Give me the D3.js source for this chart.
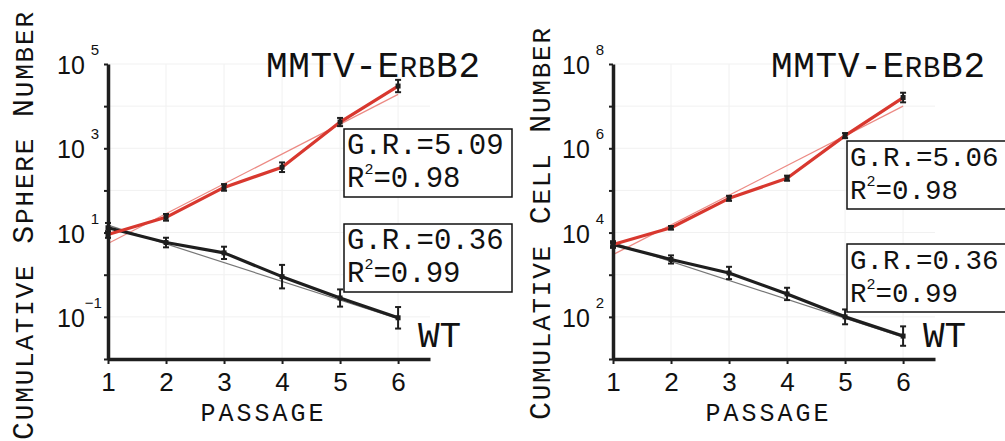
<!DOCTYPE html>
<html>
<head>
<meta charset="utf-8">
<script src="https://cdn.jsdelivr.net/npm/d3@7"></script>
<style>
  body { margin: 0; background: #fff; }
  svg { display: block; }
</style>
</head>
<body>
<div id="chart"></div>
<script>
// passage numbers on the x axis
var passages = [1, 2, 3, 4, 5, 6];

// cumulative sphere number (left panel)
var sphereErbb2 = [9, 23, 118, 355, 4200, 30000];
var sphereWT = [13, 5.8, 3.3, 0.9, 0.28, 0.095];
var sphereErbb2Err = [1.2, 1.2, 1.2, 1.3, 1.25, 1.4];
var sphereWTErr = [1.3, 1.3, 1.4, 1.9, 1.6, 1.8];
var sphereErbb2Fit = [5.5, 19000];
var sphereWTFit = [15, 0.09];

// cumulative cell number (right panel)
var cellErbb2 = [5200, 13000, 65000, 195000, 2000000, 16000000];
var cellWT = [5200, 2300, 1100, 350, 100, 35];
var cellErbb2Err = [1.1, 1.1, 1.15, 1.15, 1.15, 1.3];
var cellWTErr = [1.2, 1.25, 1.4, 1.4, 1.5, 1.7];
var cellErbb2Fit = [3000, 1e7];
var cellWTFit = [5800, 33];

var sphereTickExp = [5, 3, 1, -1];
var cellTickExp = [8, 6, 4, 2];
var sphereStats = [["G.R.=5.09", "0.98"], ["G.R.=0.36", "0.99"]];
var cellStats = [["G.R.=5.06", "0.98"], ["G.R.=0.36", "0.99"]];

var mono = "'Liberation Mono', 'DejaVu Sans Mono', monospace";
var sans = "'Liberation Sans', Arial, sans-serif";
var red = "#d8382f";
var ink = "#1e1e1e";

var svg = d3.select('#chart')
  .append('svg')
  .attr('width', 1005)
  .attr('height', 441)
  .attr('viewBox', '0 0 1005 441');

svg.append('rect').attr('width', 1005).attr('height', 441).attr('fill', '#fff');

// small-caps label: capitals at base size, the rest synthesized a bit larger
function smallCaps(text, label, size) {
  label.split(' ').forEach(function (w, i) {
    text.append('tspan').attr('font-size', size).text((i ? ' ' : '') + w[0]);
    text.append('tspan').attr('font-size', size * 1.22)
      .attr('font-variant', 'small-caps').text(w.slice(1));
  });
}

function drawPanel(p) {
  var g = svg.append('g');
  var x = d3.scaleLinear().domain([1, 6.55]).range([p.left, p.left + 322]);
  var y = d3.scaleLog().domain(p.yDomain).range([359, 64]);
  var decades = d3.range(Math.log10(p.yDomain[0]), Math.log10(p.yDomain[1]) + 1).map(function (e) { return Math.pow(10, e); });

  // faint grid
  g.selectAll('.vg').data(passages.slice(1)).enter().append('line')
    .attr('x1', function (d) { return x(d); }).attr('x2', function (d) { return x(d); })
    .attr('y1', 64).attr('y2', 359)
    .attr('stroke', '#f1f1f1').attr('stroke-width', 1);
  g.selectAll('.hg').data(decades.slice(1)).enter().append('line')
    .attr('x1', x(1)).attr('x2', x(6.55))
    .attr('y1', function (d) { return y(d); }).attr('y2', function (d) { return y(d); })
    .attr('stroke', '#f1f1f1').attr('stroke-width', 1);

  var line = d3.line()
    .x(function (d) { return x(d[0]); })
    .y(function (d) { return y(d[1]); });

  // regression lines
  [[p.upFit, '#ec8a84'], [p.downFit, '#777']].forEach(function (f) {
    g.append('path')
      .attr('d', line([[1, f[0][0]], [6, f[0][1]]]))
      .attr('fill', 'none').attr('stroke', f[1]).attr('stroke-width', 1.2);
  });

  // data series
  [[p.down, p.downErr, ink], [p.up, p.upErr, red]].forEach(function (s) {
    var pts = passages.map(function (d, i) { return [d, s[0][i]]; });
    g.append('path')
      .attr('d', line(pts))
      .attr('fill', 'none').attr('stroke', s[2]).attr('stroke-width', 3.2)
      .attr('stroke-linejoin', 'round');
    var eb = g.selectAll(null).data(pts).enter().append('g');
    eb.append('line')
      .attr('x1', function (d) { return x(d[0]); }).attr('x2', function (d) { return x(d[0]); })
      .attr('y1', function (d, i) { return y(d[1] * s[1][i]); })
      .attr('y2', function (d, i) { return y(d[1] / s[1][i]); })
      .attr('stroke', ink).attr('stroke-width', 2);
    [1, -1].forEach(function (sg) {
      eb.append('line')
        .attr('x1', function (d) { return x(d[0]) - 3; }).attr('x2', function (d) { return x(d[0]) + 3; })
        .attr('y1', function (d, i) { return y(d[1] * Math.pow(s[1][i], sg)); })
        .attr('y2', function (d, i) { return y(d[1] * Math.pow(s[1][i], sg)); })
        .attr('stroke', ink).attr('stroke-width', 2);
    });
    eb.append('rect')
      .attr('x', function (d) { return x(d[0]) - 2.5; })
      .attr('y', function (d) { return y(d[1]) - 2.5; })
      .attr('width', 5).attr('height', 5).attr('fill', ink);
  });

  // axes
  var yAxis = g.append('g').attr('transform', 'translate(' + p.left + ',0)')
    .call(d3.axisLeft(y).tickValues(decades).tickFormat('').tickSize(4).tickSizeOuter(0));
  var xAxis = g.append('g').attr('transform', 'translate(0,359)')
    .call(d3.axisBottom(x).tickValues(passages).tickFormat(d3.format('d')).tickSize(5).tickSizeOuter(0).tickPadding(4));
  [yAxis, xAxis].forEach(function (a) {
    a.select('.domain').attr('stroke', ink).attr('stroke-width', 3.5);
    a.selectAll('.tick line').attr('stroke', ink).attr('stroke-width', 2);
  });
  xAxis.selectAll('.tick text')
    .attr('fill', '#111').attr('font-family', sans).attr('font-size', 26)
    .attr('dy', '0.9em');

  // y tick labels with exponents
  p.tickExp.forEach(function (e) {
    var t = g.append('text')
      .attr('x', p.left - 51).attr('y', y(Math.pow(10, e)) + 10)
      .attr('font-family', sans).attr('font-size', 25).attr('fill', '#111')
      .text('10');
    t.append('tspan')
      .attr('dx', e < 0 ? 0 : 6).attr('dy', -19).attr('font-size', 15)
      .text(e < 0 ? '\u2212' + Math.abs(e) : e);
  });

  // axis titles
  var yt = g.append('text')
    .attr('transform', 'translate(' + p.yLabelX + ',' + p.yLabelY + ') rotate(-90)')
    .attr('text-anchor', 'middle')
    .attr('font-family', mono).attr('fill', '#111')
    .attr('textLength', p.yLabelLen).attr('lengthAdjust', 'spacing');
  smallCaps(yt, p.yLabel, 30);
  g.append('text')
    .attr('x', p.left + 154).attr('y', 421)
    .attr('text-anchor', 'middle')
    .attr('font-family', mono).attr('font-size', 25).attr('fill', '#111')
    .attr('textLength', 123).attr('lengthAdjust', 'spacing')
    .text('PASSAGE');

  // panel title
  var tt = g.append('text')
    .attr('x', p.left + 158).attr('y', 77)
    .attr('font-family', mono).attr('font-size', 36).attr('fill', '#111')
    .attr('textLength', 214).attr('lengthAdjust', 'spacing');
  tt.append('tspan').text('MMTV-E');
  tt.append('tspan').attr('font-variant', 'small-caps').attr('font-size', 41).text('rb');
  tt.append('tspan').text('B2');

  g.append('text')
    .attr('x', p.left + 310).attr('y', 347)
    .attr('font-family', mono).attr('font-size', 36).attr('fill', '#111')
    .text('WT');

  // growth rate boxes
  p.stats.forEach(function (s, i) {
    var top = p.boxTop[i];
    g.append('rect')
      .attr('x', p.boxX).attr('y', top)
      .attr('width', 168).attr('height', 68)
      .attr('fill', '#fff').attr('stroke', '#111').attr('stroke-width', 1.5);
    g.append('text')
      .attr('x', p.boxX + 3).attr('y', top + 25)
      .attr('font-family', mono).attr('font-size', p.boxFont).attr('fill', '#111')
      .text(s[0]);
    var r = g.append('text')
      .attr('x', p.boxX + 3).attr('y', top + 58)
      .attr('font-family', mono).attr('font-size', p.boxFont).attr('fill', '#111');
    r.append('tspan').text('R');
    r.append('tspan').attr('dy', -13).attr('font-size', 15).text('2');
    r.append('tspan').attr('dy', 13).text('=' + s[1]);
  });
}

drawPanel({
  left: 108, yDomain: [1e-2, 1e5], tickExp: sphereTickExp,
  up: sphereErbb2, upErr: sphereErbb2Err, upFit: sphereErbb2Fit,
  down: sphereWT, downErr: sphereWTErr, downFit: sphereWTFit,
  yLabel: 'Cumulative Sphere Number', yLabelX: 33, yLabelY: 226, yLabelLen: 428,
  stats: sphereStats, boxX: 344, boxTop: [129, 224], boxFont: 29
});

drawPanel({
  left: 613, yDomain: [1e1, 1e8], tickExp: cellTickExp,
  up: cellErbb2, upErr: cellErbb2Err, upFit: cellErbb2Fit,
  down: cellWT, downErr: cellWTErr, downFit: cellWTFit,
  yLabel: 'Cumulative Cell Number', yLabelX: 550, yLabelY: 224, yLabelLen: 392,
  stats: cellStats, boxX: 847, boxTop: [141, 244], boxFont: 27.5
});
</script>
</body>
</html>
